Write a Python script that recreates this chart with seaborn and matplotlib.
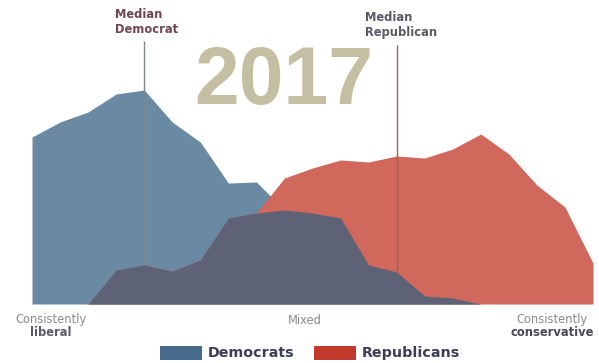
import matplotlib
matplotlib.use("Agg")
import matplotlib.pyplot as plt
import seaborn as sns
import numpy as np
import pandas as pd
from matplotlib.patches import Patch

# ---- data (ideological consistency scale, -10 .. +10) ----
scale = list(range(-10, 11))
democrats = [167, 182, 192, 210, 214, 182, 162, 121, 122, 94, 91, 86, 39, 32, 8, 6, 0, 0, 0, 0, 0]
republicans = [0, 0, 0, 34, 39, 33, 44, 86, 91, 126, 136, 144, 142, 148, 146, 155, 170, 150, 119, 97, 41]
median_dem = -6
median_rep = 3
year_label = "2017"
series_names = ["Democrats", "Republicans"]

# ---- style ----
c_dem = "#6a8aa4"
c_rep = "#d0685b"
c_both = "#5e6277"
c_dem_leg = "#466b8c"
c_rep_leg = "#c13a2c"

sns.set_theme(style="white")
plt.rcParams['font.family'] = ['DejaVu Sans']

df = pd.DataFrame({"scale": scale * 2,
                   "value": democrats + republicans,
                   "party": ["Democrats"] * len(scale) + ["Republicans"] * len(scale)})

fig = plt.figure(figsize=(5.99, 3.63), dpi=100)
ax = fig.add_axes([32 / 599, 59 / 363, (593 - 32) / 599, (304 - 20) / 363])

sns.lineplot(data=df, x="scale", y="value", hue="party",
             palette={"Democrats": c_dem, "Republicans": c_rep},
             linewidth=0, legend=False, ax=ax)

x = np.array(scale)
d = np.array(democrats)
r = np.array(republicans)
ax.fill_between(x, 0, d, color=c_dem, lw=0, zorder=1)
ax.fill_between(x, 0, r, color=c_rep, lw=0, zorder=3)
ax.fill_between(x, 0, np.minimum(d, r), color=c_both, lw=0, zorder=4)

ax.set_xlim(-10, 10)
ax.set_ylim(0, 284)
ax.axis("off")

# median lines
i_d = scale.index(median_dem)
i_r = scale.index(median_rep)
ax.vlines(median_dem, min(democrats[i_d], republicans[i_d]), 263, color="#7d8590", lw=1.0, zorder=2.5)
ax.vlines(median_rep, min(democrats[i_r], republicans[i_r]), 259, color="#8a6a66", lw=1.0, zorder=3.5)

fig.text(115 / 599, 1 - 22 / 363, "Median\nDemocrat", fontsize=8.3, fontweight="bold",
         color="#6e4651", ha="left", va="center", linespacing=1.15)
fig.text(365 / 599, 1 - 25 / 363, "Median\nRepublican", fontsize=8.3, fontweight="bold",
         color="#5a5a68", ha="left", va="center", linespacing=1.15)

fig.text(284 / 599, 1 - 83 / 363, year_label, fontsize=58, fontweight="bold",
         family=["Liberation Sans", "DejaVu Sans"], color="#c4bea2", ha="center", va="center")

# axis end labels
fig.text(51 / 599, 1 - 319 / 363, "Consistently", fontsize=8.3, color="#8a8a8a", ha="center", va="center")
fig.text(51 / 599, 1 - 332 / 363, "liberal", fontsize=8.3, color="#5a5a66", fontweight="bold", ha="center", va="center")
fig.text(305 / 599, 1 - 320 / 363, "Mixed", fontsize=8.3, color="#8a8a8a", ha="center", va="center")
fig.text(552 / 599, 1 - 319 / 363, "Consistently", fontsize=8.3, color="#8a8a8a", ha="center", va="center")
fig.text(552 / 599, 1 - 332 / 363, "conservative", fontsize=8.3, color="#4a4a56", fontweight="bold", ha="center", va="center")

handles = [Patch(facecolor=c_dem_leg, edgecolor="none", label=series_names[0]),
           Patch(facecolor=c_rep_leg, edgecolor="none", label=series_names[1])]
leg = fig.legend(handles=handles, loc="center", bbox_to_anchor=(310 / 599, 10 / 363), ncol=2,
                 frameon=False, prop={"weight": "bold", "size": 10.3},
                 handlelength=2.9, handleheight=1.15, handletextpad=0.4, columnspacing=1.4,
                 borderpad=0, borderaxespad=0)
for t in leg.get_texts():
    t.set_color("#3a3f55")

fig.savefig("out.png", dpi=100)
